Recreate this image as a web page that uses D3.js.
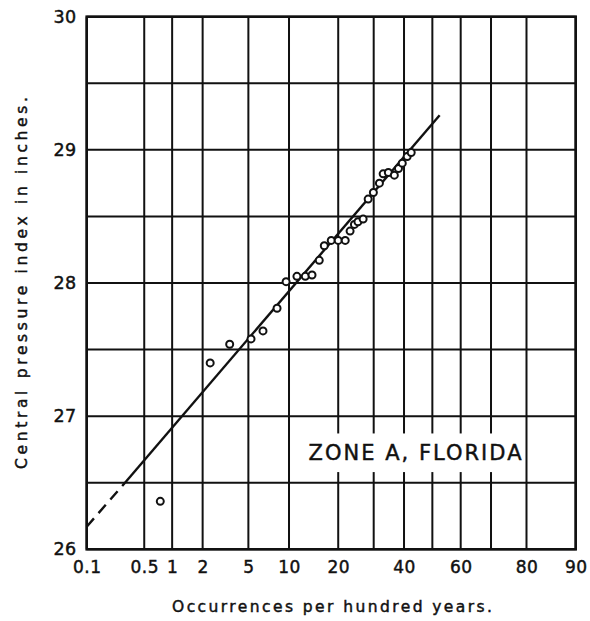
<!DOCTYPE html>
<html>
<head>
<meta charset="utf-8">
<script src="https://cdn.jsdelivr.net/npm/d3@7"></script>
<style>
  html, body { margin: 0; padding: 0; background: #fff; }
  svg { display: block; }
  text { font-family: "DejaVu Sans", sans-serif; fill: #111; stroke: #111; stroke-width: 0.45px; }
</style>
</head>
<body>
<svg id="chart" width="590" height="621"></svg>
<script>
// ---- Data ----
const occurrences = [0.75, 2.35, 3.5, 5.25, 6.5, 8.25, 9.55, 11.3, 12.8, 14.1, 15.6, 16.7, 18.3, 20.0, 21.8, 23.1, 24.3, 25.3, 26.8, 28.3, 29.9, 31.8, 33.0, 34.7, 36.7, 38.1, 39.4, 41.1, 42.5];
const pressure    = [26.36, 27.40, 27.54, 27.58, 27.64, 27.81, 28.01, 28.05, 28.05, 28.06, 28.17, 28.28, 28.32, 28.32, 28.32, 28.39, 28.44, 28.46, 28.48, 28.63, 28.68, 28.75, 28.82, 28.83, 28.81, 28.86, 28.90, 28.95, 28.98];

// Fitted line: dashed extrapolation then solid part
const fitDashedX = [0.1, 0.3];
const fitDashedY = [26.17, 26.50];
const fitSolidX  = [0.3, 52.6];
const fitSolidY  = [26.50, 29.26];

const xTickValues = [0.1, 0.5, 1, 2, 5, 10, 20, 40, 60, 80, 90];
const xTickLabels = ["0.1", "0.5", "1", "2", "5", "10", "20", "40", "60", "80", "90"];
const xGridValues = [0.1, 0.5, 1, 2, 5, 10, 20, 30, 40, 50, 60, 70, 80, 90];
const yTickValues = [26, 27, 28, 29, 30];
const yGridValues = [26, 26.5, 27, 27.5, 28, 28.5, 29, 29.5, 30];

const yTitle = "Central pressure index in inches.";
const xTitle = "Occurrences per hundred years.";
const zoneLabel = "ZONE A, FLORIDA";

// ---- Normal probability helper (inverse normal CDF, Acklam) ----
function probit(p) {
  const a=[-3.969683028665376e+01,2.209460984245205e+02,-2.759285104469687e+02,1.383577518672690e+02,-3.066479806614716e+01,2.506628277459239e+00];
  const b=[-5.447609879822406e+01,1.615858368580409e+02,-1.556989798598866e+02,6.680131188771972e+01,-1.328068155288572e+01];
  const c=[-7.784894002430293e-03,-3.223964580411365e-01,-2.400758277161838e+00,-2.549732539343734e+00,4.374664141464968e+00,2.938163982698783e+00];
  const d=[7.784695709041462e-03,3.224671290700398e-01,2.445134137142996e+00,3.754408661907416e+00];
  const pl = 0.02425, ph = 1 - pl;
  if (p < pl) { const q = Math.sqrt(-2*Math.log(p)); return (((((c[0]*q+c[1])*q+c[2])*q+c[3])*q+c[4])*q+c[5])/((((d[0]*q+d[1])*q+d[2])*q+d[3])*q+1); }
  if (p <= ph) { const q = p-0.5, r = q*q; return (((((a[0]*r+a[1])*r+a[2])*r+a[3])*r+a[4])*r+a[5])*q/(((((b[0]*r+b[1])*r+b[2])*r+b[3])*r+b[4])*r+1); }
  const q = Math.sqrt(-2*Math.log(1-p)); return -(((((c[0]*q+c[1])*q+c[2])*q+c[3])*q+c[4])*q+c[5])/((((d[0]*q+d[1])*q+d[2])*q+d[3])*q+1);
}
const zOf = v => probit(v / 100);

// ---- Layout ----
const plotL = 86.7, plotR = 575.7, plotT = 16.7, plotB = 549.3;
const svg = d3.select("#chart");
svg.append("rect").attr("width", 590).attr("height", 621).attr("fill", "#fff");

const zScale = d3.scaleLinear().domain([zOf(0.1), zOf(90)]).range([plotL, plotR]);
const x = v => zScale(zOf(v));
const y = d3.scaleLinear().domain([26, 30]).range([plotB, plotT]);

// ---- Grid ----
const grid = svg.append("g").attr("stroke", "#111").attr("stroke-width", 2);
grid.selectAll("line.v").data(xGridValues).join("line")
  .attr("class", "v")
  .attr("x1", d => x(d)).attr("x2", d => x(d))
  .attr("y1", plotT).attr("y2", plotB);
grid.selectAll("line.h").data(yGridValues).join("line")
  .attr("class", "h")
  .attr("x1", plotL).attr("x2", plotR)
  .attr("y1", d => y(d)).attr("y2", d => y(d));

// ---- Zone label box (white background over grid) ----
svg.append("rect")
  .attr("x", x(14.5)).attr("y", y(26.87))
  .attr("width", x(79.5) - x(14.5)).attr("height", y(26.58) - y(26.87))
  .attr("fill", "#fff");
svg.append("text")
  .attr("x", 308.5).attr("y", 460)
  .attr("font-size", 21)
  .attr("textLength", 213).attr("lengthAdjust", "spacing")
  .text(zoneLabel);

// ---- Frame ----
svg.append("rect")
  .attr("x", plotL).attr("y", plotT)
  .attr("width", plotR - plotL).attr("height", plotB - plotT)
  .attr("fill", "none").attr("stroke", "#111").attr("stroke-width", 2.6);

// ---- Axes ----
const xAxis = d3.axisBottom(zScale)
  .tickValues(xTickValues.map(zOf))
  .tickFormat((d, i) => xTickLabels[i])
  .tickSize(0).tickPadding(12);
const gx = svg.append("g").attr("transform", `translate(0,${plotB})`).call(xAxis);
gx.select(".domain").remove();
gx.selectAll("text").attr("font-size", 17).attr("font-family", "DejaVu Sans, sans-serif").attr("fill", "#111").attr("letter-spacing", 0.5);

const yAxis = d3.axisLeft(y).tickValues(yTickValues).tickFormat(d3.format("d")).tickSize(0).tickPadding(10);
const gy = svg.append("g").attr("transform", `translate(${plotL},0)`).call(yAxis);
gy.select(".domain").remove();
gy.selectAll("text").attr("font-size", 17.5).attr("font-family", "DejaVu Sans, sans-serif").attr("fill", "#111").attr("letter-spacing", 0.5);

// ---- Titles ----
svg.append("text")
  .attr("transform", "translate(27,283) rotate(-90)")
  .attr("text-anchor", "middle")
  .attr("font-size", 15.5)
  .attr("textLength", 372).attr("lengthAdjust", "spacing")
  .text(yTitle);
svg.append("text")
  .attr("x", 332).attr("y", 612)
  .attr("text-anchor", "middle")
  .attr("font-size", 15.5)
  .attr("textLength", 320).attr("lengthAdjust", "spacing")
  .text(xTitle);

// ---- Fitted line ----
const lineGen = d3.line().x(d => x(d[0])).y(d => y(d[1]));
svg.append("path")
  .datum(d3.zip(fitDashedX, fitDashedY))
  .attr("d", lineGen)
  .attr("fill", "none").attr("stroke", "#111").attr("stroke-width", 2.4)
  .attr("stroke-dasharray", "11,7");
svg.append("path")
  .datum(d3.zip(fitSolidX, fitSolidY))
  .attr("d", lineGen)
  .attr("fill", "none").attr("stroke", "#111").attr("stroke-width", 2.4);

// ---- Points ----
svg.append("g").selectAll("circle").data(d3.zip(occurrences, pressure)).join("circle")
  .attr("cx", d => x(d[0])).attr("cy", d => y(d[1]))
  .attr("r", 3.5)
  .attr("fill", "#fff").attr("stroke", "#111").attr("stroke-width", 2);
</script>
</body>
</html>
